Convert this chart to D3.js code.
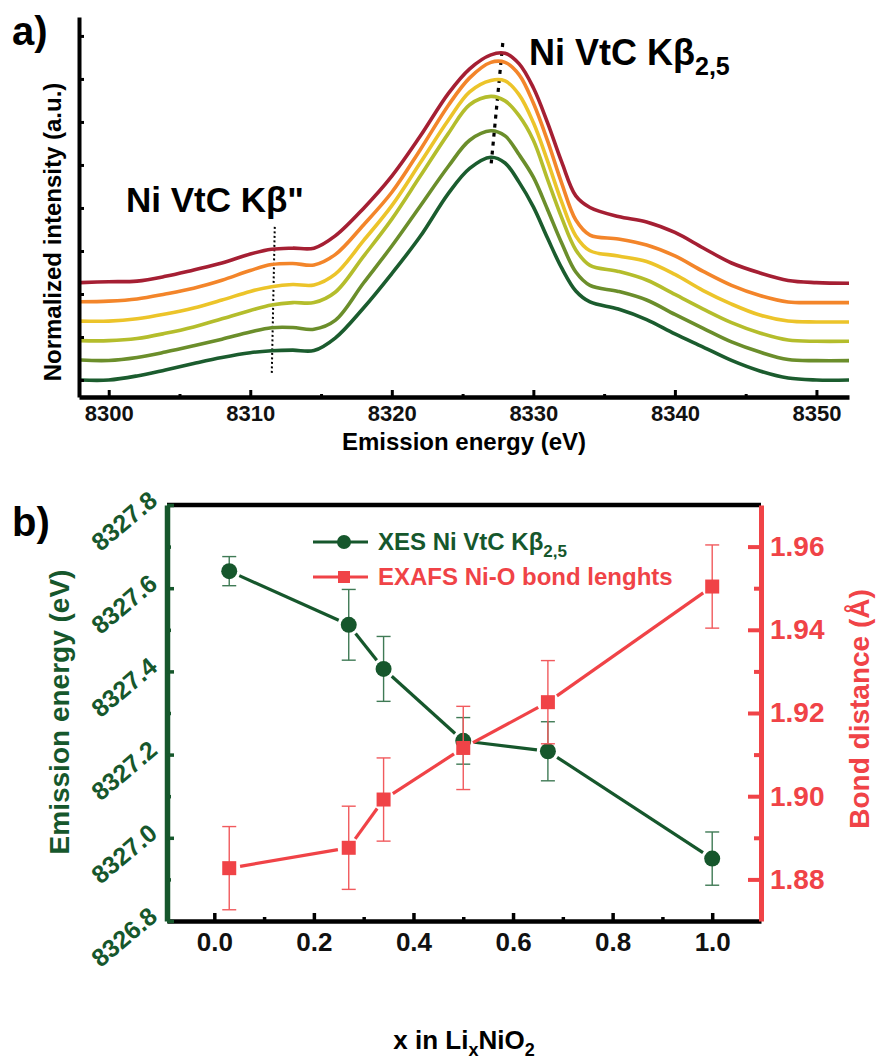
<!DOCTYPE html>
<html>
<head>
<meta charset="utf-8">
<script src="https://cdn.jsdelivr.net/npm/d3@7"></script>
<style>
  html, body { margin: 0; padding: 0; background: #fff; }
  svg { display: block; font-family: "Liberation Sans", Arial, sans-serif; font-weight: bold; }
</style>
</head>
<body>
<svg id="fig" width="880" height="1064"></svg>
<script>
// ---------- panel a: stacked Ni valence-to-core XES spectra ----------
const energy = [8298, 8300, 8302, 8304, 8306, 8308, 8310, 8311.5, 8313, 8314.5, 8316, 8318, 8320, 8322, 8324, 8325.5,
  8327, 8328, 8329, 8330, 8331, 8332, 8333, 8334, 8336, 8338, 8340, 8342, 8344, 8346, 8348, 8350, 8352.3];

const spectrumDarkGreen = [0, 0, .019, .047, .077, .105, .127, .136, .139, .137, .195, .335, .495, .667, .868, .984,
  1.036, 1.009, .919, .805, .660, .521, .414, .363, .330, .281, .214, .153, .091, .042, .009, 0, 0];
const spectrumOlive = [.003, .001, .015, .040, .069, .100, .133, .153, .154, .146, .187, .361, .533, .718, .904, 1.025,
  1.069, 1.045, .957, .853, .703, .547, .412, .350, .322, .282, .215, .150, .087, .040, .005, 0, 0];
const spectrumLime = [.003, .003, .013, .037, .067, .105, .143, .169, .180, .180, .228, .395, .568, .767, .967, 1.100,
  1.139, 1.118, 1.048, .935, .753, .575, .425, .353, .325, .285, .218, .150, .087, .039, .006, 0, 0];
const spectrumYellow = [.004, .004, .015, .037, .065, .102, .142, .164, .174, .172, .222, .378, .541, .739, .939, 1.070,
  1.123, 1.121, 1.056, .927, .749, .558, .400, .331, .307, .281, .221, .146, .083, .032, .004, 0, 0];
const spectrumOrange = [.004, .007, .017, .040, .067, .104, .149, .177, .182, .175, .223, .361, .513, .710, .918, 1.045,
  1.117, 1.117, 1.059, .928, .753, .556, .384, .314, .296, .268, .217, .145, .080, .033, .003, 0, 0];
const spectrumRed = [.003, .007, .010, .032, .062, .094, .136, .158, .163, .163, .220, .348, .498, .683, .883, .997,
  1.062, 1.069, 1.020, .909, .747, .564, .406, .352, .310, .285, .236, .164, .094, .048, .013, .003, 0];

const stackOffset = [0, 0.09, 0.18, 0.27, 0.36, 0.45];
const spectrumColors = ["#1b5c2e", "#6b8e2b", "#b4bd2c", "#ecc42a", "#f3852a", "#a51f33"];

const energyTicks = [8300, 8310, 8320, 8330, 8340, 8350];
const energyMinorTicks = [8305, 8315, 8325, 8335, 8345];
const intensityTicks = [0, 0.2, 0.4, 0.6, 0.8, 1.0, 1.2, 1.4, 1.6];

// dotted guides through the K-beta'' shoulder and the K-beta 2,5 maxima
const kbDoublePrimeGuide = [[8311.73, 0.712], [8311.52, 0.033]];
const kb25Guide = [[8327.84, 1.567], [8327.0, 0.991]];

// ---------- panel b: emission energy and Ni-O bond length vs lithium content ----------
const lithiumX = [0.03, 0.27, 0.34, 0.50, 0.67, 1.00];
const vtcEnergy = [8327.641, 8327.512, 8327.406, 8327.233, 8327.208, 8326.950];
const vtcEnergyErr = [0.035, 0.085, 0.078, 0.056, 0.071, 0.064];
const bondLength = [1.8827, 1.8876, 1.8992, 1.9116, 1.9226, 1.9504];
const bondLengthErr = [0.010, 0.010, 0.010, 0.010, 0.010, 0.010];

const lithiumTicks = [0, 0.2, 0.4, 0.6, 0.8, 1.0];
const lithiumMinorTicks = [0.1, 0.3, 0.5, 0.7, 0.9];
const vtcTicks = [8326.8, 8327.0, 8327.2, 8327.4, 8327.6, 8327.8];
const vtcMinorTicks = [8326.9, 8327.1, 8327.3, 8327.5, 8327.7];
const bondTicks = [1.88, 1.90, 1.92, 1.94, 1.96];
const bondMinorTicks = [1.89, 1.91, 1.93, 1.95];

const GREEN = "#16572c", GREEN_ERR = "#3f7a55", RED = "#f04347", RED_ERR = "#f15a5d";
const FONT = "Liberation Sans, Arial, sans-serif";

const svg = d3.select("#fig");

// ================= panel a =================
const xA = d3.scaleLinear().domain([8297.9, 8352.3]).range([79, 849]);
const yA = d3.scaleLinear().domain([-0.079, 1.688]).range([397, 17]);

const guideLine = d3.line().x(d => xA(d[0])).y(d => yA(d[1]));
svg.append("path").attr("d", guideLine(kbDoublePrimeGuide))
  .attr("fill", "none").attr("stroke", "#000").attr("stroke-width", 2).attr("stroke-dasharray", "2,2.5");
svg.append("path").attr("d", guideLine(kb25Guide))
  .attr("fill", "none").attr("stroke", "#000").attr("stroke-width", 3.2).attr("stroke-dasharray", "4,5");

const spectra = [spectrumDarkGreen, spectrumOlive, spectrumLime, spectrumYellow, spectrumOrange, spectrumRed];
const spectrumLine = d3.line().curve(d3.curveCatmullRom.alpha(0.5))
  .x(d => xA(d[0])).y(d => yA(d[1]));
spectra.forEach((vals, i) => {
  const pts = energy.map((e, j) => [e, vals[j] + stackOffset[i]]);
  svg.append("path").attr("d", spectrumLine(pts))
    .attr("fill", "none").attr("stroke", spectrumColors[i])
    .attr("stroke-width", 3.6).attr("stroke-linejoin", "round");
});

// axes of panel a (inward ticks, no labels on intensity)
const axA = svg.append("g").attr("transform", "translate(0,397)")
  .call(d3.axisBottom(xA).tickValues(energyTicks).tickSize(-7).tickSizeOuter(0).tickPadding(8)
    .tickFormat(d3.format("d")));
axA.select(".domain").attr("stroke-width", 4.5);
axA.selectAll(".tick line").attr("stroke-width", 3);
axA.selectAll(".tick text").attr("font-size", 22).attr("font-family", FONT)
  .attr("font-weight", "bold").attr("fill", "#111");
const axAm = svg.append("g").attr("transform", "translate(0,397)")
  .call(d3.axisBottom(xA).tickValues(energyMinorTicks).tickSize(-3).tickFormat(""));
axAm.select(".domain").remove();
axAm.selectAll(".tick line").attr("stroke-width", 3);

const ayA = svg.append("g").attr("transform", "translate(79,0)")
  .call(d3.axisLeft(yA).tickValues(intensityTicks).tickSize(-5).tickSizeOuter(0).tickFormat(""));
ayA.select(".domain").attr("stroke-width", 4);
ayA.selectAll(".tick line").attr("stroke-width", 3);

svg.append("text").attr("x", 12).attr("y", 45).attr("font-size", 40).text("a)");
svg.append("text").attr("transform", "translate(61,232) rotate(-90)").attr("text-anchor", "middle")
  .attr("font-size", 24).text("Normalized intensity (a.u.)");
svg.append("text").attr("x", 464).attr("y", 450).attr("text-anchor", "middle")
  .attr("font-size", 24).text("Emission energy (eV)");

svg.append("text").attr("x", 126).attr("y", 212).attr("font-size", 35).text("Ni VtC Kβ\"");
const kb = svg.append("text").attr("x", 529).attr("y", 65).attr("font-size", 36);
kb.append("tspan").text("Ni VtC Kβ");
kb.append("tspan").attr("font-size", 25).attr("dy", 10).text("2,5");

// ================= panel b =================
const L = 167, R = 761, T = 505, B = 921;
const xB = d3.scaleLinear().domain([-0.095, 1.098]).range([L, R]);
const yE = d3.scaleLinear().domain([8326.8, 8327.8]).range([B, T]);
const yB = d3.scaleLinear().domain([1.87, 1.97]).range([B, T]);

// top frame line
svg.append("line").attr("x1", L).attr("x2", R).attr("y1", T).attr("y2", T)
  .attr("stroke", "#000").attr("stroke-width", 4.5);

// bottom axis
const axB = svg.append("g").attr("transform", `translate(0,${B})`)
  .call(d3.axisBottom(xB).tickValues(lithiumTicks).tickSize(-8).tickSizeOuter(0)
    .tickPadding(12).tickFormat(d3.format(".1f")));
axB.select(".domain").attr("stroke-width", 4.5);
axB.selectAll(".tick line").attr("stroke-width", 3.5);
axB.selectAll(".tick text").attr("font-size", 26).attr("font-family", FONT)
  .attr("font-weight", "bold").attr("fill", "#111");
const axBm = svg.append("g").attr("transform", `translate(0,${B})`)
  .call(d3.axisBottom(xB).tickValues(lithiumMinorTicks).tickSize(-4).tickFormat(""));
axBm.select(".domain").remove();
axBm.selectAll(".tick line").attr("stroke-width", 3.5);

// left (emission energy) axis, green
const ayE = svg.append("g").attr("transform", `translate(${L},0)`)
  .call(d3.axisLeft(yE).tickValues(vtcTicks).tickSize(-7).tickSizeOuter(0).tickFormat(""));
ayE.select(".domain").attr("stroke", GREEN).attr("stroke-width", 5.5);
ayE.selectAll(".tick line").attr("stroke", GREEN).attr("stroke-width", 3.5);
const ayEm = svg.append("g").attr("transform", `translate(${L},0)`)
  .call(d3.axisLeft(yE).tickValues(vtcMinorTicks).tickSize(-4).tickFormat(""));
ayEm.select(".domain").remove();
ayEm.selectAll(".tick line").attr("stroke", GREEN).attr("stroke-width", 3.5);
svg.append("g").selectAll("text").data(vtcTicks).join("text")
  .attr("transform", d => `translate(${L - 8},${yE(d) - 2}) rotate(-40)`)
  .attr("text-anchor", "end").attr("font-size", 25).attr("fill", GREEN)
  .text(d => d3.format(".1f")(d));

// right (bond distance) axis, red
const ayB = svg.append("g").attr("transform", `translate(${R},0)`)
  .call(d3.axisRight(yB).tickValues(bondTicks).tickSize(-13).tickSizeOuter(0).tickPadding(9)
    .tickFormat(d3.format(".2f")));
ayB.select(".domain").attr("stroke", RED).attr("stroke-width", 5);
ayB.selectAll(".tick line").attr("stroke", RED).attr("stroke-width", 4);
ayB.selectAll(".tick text").attr("font-size", 28).attr("fill", RED)
  .attr("font-family", FONT).attr("font-weight", "bold");
const ayBm = svg.append("g").attr("transform", `translate(${R},0)`)
  .call(d3.axisRight(yB).tickValues(bondMinorTicks).tickSize(-7).tickFormat(""));
ayBm.select(".domain").remove();
ayBm.selectAll(".tick line").attr("stroke", RED).attr("stroke-width", 4);

// axis titles
svg.append("text").attr("x", 12).attr("y", 536).attr("font-size", 40).text("b)");
svg.append("text").attr("transform", "translate(69,712) rotate(-90)").attr("text-anchor", "middle")
  .attr("font-size", 28).attr("fill", GREEN).text("Emission energy (eV)");
svg.append("text").attr("transform", "translate(869,709) rotate(-90)").attr("text-anchor", "middle")
  .attr("font-size", 28).attr("fill", RED).text("Bond distance (Å)");
const xt = svg.append("text").attr("x", 464).attr("y", 1049).attr("text-anchor", "middle").attr("font-size", 26);
xt.append("tspan").text("x in Li");
xt.append("tspan").attr("font-size", 18).attr("dy", 7).text("x");
xt.append("tspan").attr("dy", -7).text("NiO");
xt.append("tspan").attr("font-size", 18).attr("dy", 7).text("2");

// connecting lines that stop short of each symbol
function gappedSegments(xs, ys, yScale, gap) {
  const segs = [];
  for (let i = 0; i < xs.length - 1; i++) {
    const x1 = xB(xs[i]), y1 = yScale(ys[i]), x2 = xB(xs[i + 1]), y2 = yScale(ys[i + 1]);
    const len = Math.hypot(x2 - x1, y2 - y1), ux = (x2 - x1) / len, uy = (y2 - y1) / len;
    segs.push([x1 + ux * gap, y1 + uy * gap, x2 - ux * gap, y2 - uy * gap]);
  }
  return segs;
}

function drawSeries(vals, errs, yScale, color, errColor, symbol) {
  const g = svg.append("g");
  g.selectAll("line.seg").data(gappedSegments(lithiumX, vals, yScale, 11)).join("line")
    .attr("x1", d => d[0]).attr("y1", d => d[1]).attr("x2", d => d[2]).attr("y2", d => d[3])
    .attr("stroke", color).attr("stroke-width", 3.2);
  const pts = lithiumX.map((x, i) => ({ x, v: vals[i], e: errs[i] }));
  const eb = g.selectAll("g.err").data(pts).join("g");
  eb.append("line").attr("x1", d => xB(d.x)).attr("x2", d => xB(d.x))
    .attr("y1", d => yScale(d.v - d.e)).attr("y2", d => yScale(d.v + d.e))
    .attr("stroke", errColor).attr("stroke-width", 1.4);
  [-1, 1].forEach(s => {
    eb.append("line").attr("x1", d => xB(d.x) - 7).attr("x2", d => xB(d.x) + 7)
      .attr("y1", d => yScale(d.v + s * d.e)).attr("y2", d => yScale(d.v + s * d.e))
      .attr("stroke", errColor).attr("stroke-width", 1.4);
  });
  if (symbol === "circle") {
    g.selectAll("circle").data(pts).join("circle")
      .attr("cx", d => xB(d.x)).attr("cy", d => yScale(d.v)).attr("r", 8).attr("fill", color);
  } else {
    g.selectAll("rect").data(pts).join("rect")
      .attr("x", d => xB(d.x) - 7).attr("y", d => yScale(d.v) - 7)
      .attr("width", 14).attr("height", 14).attr("fill", color);
  }
}
drawSeries(vtcEnergy, vtcEnergyErr, yE, GREEN, GREEN_ERR, "circle");
drawSeries(bondLength, bondLengthErr, yB, RED, RED_ERR, "square");

// legend
const lg = svg.append("g");
lg.append("line").attr("x1", 313).attr("x2", 368).attr("y1", 542).attr("y2", 542)
  .attr("stroke", GREEN).attr("stroke-width", 3.2);
lg.append("circle").attr("cx", 344).attr("cy", 542).attr("r", 7).attr("fill", GREEN);
const lt1 = lg.append("text").attr("x", 378).attr("y", 550).attr("font-size", 24).attr("fill", GREEN);
lt1.append("tspan").text("XES Ni VtC Kβ");
lt1.append("tspan").attr("font-size", 17).attr("dy", 7).text("2,5");
lg.append("line").attr("x1", 313).attr("x2", 368).attr("y1", 577).attr("y2", 577)
  .attr("stroke", RED).attr("stroke-width", 3.2);
lg.append("rect").attr("x", 338).attr("y", 571).attr("width", 12).attr("height", 12).attr("fill", RED);
lg.append("text").attr("x", 378).attr("y", 585).attr("font-size", 24).attr("fill", RED)
  .text("EXAFS Ni-O bond lenghts");
</script>
</body>
</html>
